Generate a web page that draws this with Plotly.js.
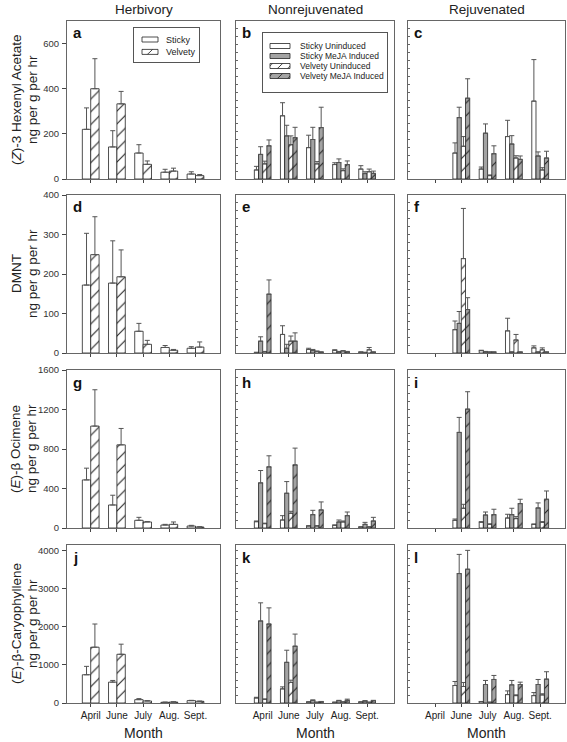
<!DOCTYPE html>
<html><head><meta charset="utf-8">
<script src="https://cdn.plot.ly/plotly-3.0.1.min.js"></script>
<style>html,body{margin:0;padding:0;background:#fff}#chart{width:567px;height:742px}</style>
</head><body><div id="chart"></div>
<script>
const months = ['April','June','July','Aug.','Sept.'];
const colTitles = ['Herbivory','Nonrejuvenated','Rejuvenated'];
const rowTitles = ['(<i>Z</i>)-3 Hexenyl Acetate','DMNT','(<i>E</i>)-β Ocimene','(<i>E</i>)-β-Caryophyllene'];
const unitTitle = 'ng per g per hr';
const panelLetters = ['a','b','c','d','e','f','g','h','i','j','k','l'];
const yMax = [700, 400, 1600, 4150];
const yTickVals = [[0,200,400,600],[0,100,200,300,400],[0,400,800,1200,1600],[0,1000,2000,3000,4000]];
const yMinorStep = [35, 20, 80, 200];

// Herbivory (Sticky, Velvety)
const hexSticky = [220, 142, 115, 30, 22];   const hexStickyErr = [95, 72, 37, 13, 10];
const hexVelvety = [400, 333, 65, 35, 15];   const hexVelvetyErr = [133, 55, 15, 13, 5];
const dmntSticky = [172, 177, 55, 14, 12];   const dmntStickyErr = [131, 107, 20, 5, 4];
const dmntVelvety = [249, 193, 22, 7, 15];   const dmntVelvetyErr = [96, 68, 10, 2, 13];
const ociSticky = [487, 233, 78, 30, 20];    const ociStickyErr = [119, 99, 30, 7, 7];
const ociVelvety = [1032, 842, 61, 37, 10];  const ociVelvetyErr = [368, 166, 5, 24, 3];
const carSticky = [742, 548, 88, 18, 62];    const carStickyErr = [220, 44, 27, 5, 8];
const carVelvety = [1466, 1280, 53, 26, 44]; const carVelvetyErr = [609, 265, 8, 5, 6];

// Nonrejuvenated: Sticky Uninduced, Sticky MeJA, Velvety Uninduced, Velvety MeJA
const bSU = [40, 280, 139, 64, 44];   const bSUErr = [16, 58, 55, 8, 15];
const bSM = [109, 191, 175, 73, 24];  const bSMErr = [34, 47, 54, 16, 8];
const bVU = [67, 152, 67, 37, 32];    const bVUErr = [12, 39, 10, 8, 12];
const bVM = [147, 183, 228, 64, 25];  const bVMErr = [26, 46, 90, 16, 10];
const eSU = [1, 47, 9, 7, 2];         const eSUErr = [1, 22, 3, 1, 1];
const eSM = [30, 12, 7, 3, 1];        const eSMErr = [11, 10, 2, 1, 1];
const eVU = [3, 30, 4, 5, 8];         const eVUErr = [1, 13, 1, 1, 6];
const eVM = [149, 30, 2, 3, 2];       const eVMErr = [36, 21, 1, 1, 1];
const hSU = [64, 81, 20, 27, 10];     const hSUErr = [7, 44, 3, 4, 2];
const hSM = [457, 352, 135, 61, 37];  const hSMErr = [125, 118, 44, 20, 20];
const hVU = [44, 149, 20, 61, 10];    const hVUErr = [5, 20, 3, 10, 2];
const hVM = [619, 639, 183, 125, 71]; const hVMErr = [112, 170, 81, 37, 37];
const kSU = [132, 371, 26, 18, 26];   const kSUErr = [18, 53, 5, 3, 5];
const kSM = [2155, 1068, 71, 62, 53]; const kSMErr = [476, 318, 8, 8, 8];
const kVU = [97, 539, 18, 26, 18];    const kVUErr = [8, 61, 3, 3, 3];
const kVM = [2075, 1492, 35, 71, 62]; const kVMErr = [424, 318, 6, 30, 8];

// Rejuvenated (no April data)
const cSU = [null, 115, 44, 188, 345]; const cSUErr = [null, 45, 9, 72, 184];
const cSM = [null, 272, 203, 155, 102]; const cSMErr = [null, 46, 41, 37, 18];
const cVU = [null, 145, 15, 93, 40];   const cVUErr = [null, 43, 3, 10, 10];
const cVM = [null, 358, 112, 87, 93];  const cVMErr = [null, 86, 35, 15, 30];
const fSU = [null, 59, 6, 56, 13];     const fSUErr = [null, 22, 1, 32, 5];
const fSM = [null, 75, 3, 2, 2];       const fSMErr = [null, 30, 1, 1, 1];
const fVU = [null, 239, 2, 33, 8];     const fVUErr = [null, 127, 1, 14, 5];
const fVM = [null, 110, 2, 2, 2];      const fVMErr = [null, 30, 1, 1, 1];
const iSU = [null, 78, 58, 101, 37];   const iSUErr = [null, 13, 6, 38, 3];
const iSM = [null, 968, 132, 135, 203]; const iSMErr = [null, 152, 30, 65, 51];
const iVU = [null, 200, 37, 95, 58];   const iVUErr = [null, 40, 5, 20, 6];
const iVM = [null, 1204, 135, 247, 291]; const iVMErr = [null, 176, 55, 44, 84];
const lSU = [null, 459, 35, 221, 194]; const lSUErr = [null, 106, 5, 97, 80];
const lSM = [null, 3400, 486, 477, 486]; const lSMErr = [null, 503, 106, 115, 132];
const lVU = [null, 433, 18, 194, 212]; const lVUErr = [null, 106, 3, 20, 30];
const lVM = [null, 3514, 618, 486, 627]; const lVMErr = [null, 495, 106, 61, 194];

const W = 567, H = 742;
const colPx = [[67,220],[236,394],[408,565]];
const rowPx = [[21,179],[195,353],[370,528],[545,703]];
const xRanges = [[-0.905, 4.935],[-1.023, 5.03],[-1.027, 4.943]];
const FONT = 'Liberation Sans, Arial, sans-serif';
const GRAY = '#a3a3a3';

const styles = {
  S:  {color:'white', hatch:false},
  V:  {color:'white', hatch:true},
  SU: {color:'white', hatch:false},
  SM: {color:GRAY, hatch:false},
  VU: {color:'white', hatch:true},
  VM: {color:GRAY, hatch:true}
};

function axId(p, letter){ return letter + (p === 0 ? '' : (p+1)); }

function bar(p, y, err, name, key, legend, showlegend){
  const st = styles[key];
  const marker = {color: st.color, line:{color:'#222', width:0.8}};
  if (st.hatch) marker.pattern = {shape:'/', fgcolor:'#222', bgcolor:st.color, size:9, solidity:0.12};
  return {
    type:'bar', x: months, y: y, name: name,
    xaxis: axId(p,'x'), yaxis: axId(p,'y'),
    marker: marker, legend: legend, showlegend: showlegend,
    error_y: {type:'data', symmetric:false, array: err, arrayminus: err.map(()=>0),
              color:'#555', thickness:1, width:2.5},
    hoverinfo:'none'
  };
}

const herb = [[hexSticky,hexStickyErr,hexVelvety,hexVelvetyErr],
              [dmntSticky,dmntStickyErr,dmntVelvety,dmntVelvetyErr],
              [ociSticky,ociStickyErr,ociVelvety,ociVelvetyErr],
              [carSticky,carStickyErr,carVelvety,carVelvetyErr]];
const nonrej = [[bSU,bSUErr,bSM,bSMErr,bVU,bVUErr,bVM,bVMErr],
                [eSU,eSUErr,eSM,eSMErr,eVU,eVUErr,eVM,eVMErr],
                [hSU,hSUErr,hSM,hSMErr,hVU,hVUErr,hVM,hVMErr],
                [kSU,kSUErr,kSM,kSMErr,kVU,kVUErr,kVM,kVMErr]];
const rej = [[cSU,cSUErr,cSM,cSMErr,cVU,cVUErr,cVM,cVMErr],
             [fSU,fSUErr,fSM,fSMErr,fVU,fVUErr,fVM,fVMErr],
             [iSU,iSUErr,iSM,iSMErr,iVU,iVUErr,iVM,iVMErr],
             [lSU,lSUErr,lSM,lSMErr,lVU,lVUErr,lVM,lVMErr]];

// legend boxes (pixels): left, top, width, height, first item offset, item step, swatch width
const legendBoxes = {
  legend:  {x:133, y:27, w:66,  h:35, first:12.5, step:12.4, sw:16, textX:36, font:9},
  legend2: {x:262, y:32, w:125, h:60, first:14,   step:10,   sw:20, textX:35, font:8.5}
};

const traces = [];
const layout = {
  width: W, height: H, margin:{l:0,r:0,t:0,b:0},
  paper_bgcolor:'white', plot_bgcolor:'white',
  font:{family:FONT, color:'#222'},
  barmode:'group', bargap:0.36, bargroupgap:0,
  showlegend:true,
  annotations: []
};
for (const k of ['legend','legend2']){
  const b = legendBoxes[k];
  layout[k] = {x:b.x/W, y:1-b.y/H, xanchor:'left', yanchor:'top', bgcolor:'white',
    bordercolor:'#555', borderwidth:1, font:{size:b.font, family:FONT, color:'#222'},
    tracegroupgap:0, itemwidth:30};
}

for (let r = 0; r < 4; r++){
  for (let c = 0; c < 3; c++){
    const p = r*3 + c;
    if (c === 0){
      const d = herb[r];
      traces.push(bar(p, d[0], d[1], 'Sticky', 'S', 'legend', r===0));
      traces.push(bar(p, d[2], d[3], 'Velvety', 'V', 'legend', r===0));
    } else {
      const d = (c === 1 ? nonrej : rej)[r];
      const show = (r===0 && c===1);
      traces.push(bar(p, d[0], d[1], 'Sticky Uninduced', 'SU', 'legend2', show));
      traces.push(bar(p, d[2], d[3], 'Sticky MeJA Induced', 'SM', 'legend2', show));
      traces.push(bar(p, d[4], d[5], 'Velvety Uninduced', 'VU', 'legend2', show));
      traces.push(bar(p, d[6], d[7], 'Velvety MeJA Induced', 'VM', 'legend2', show));
    }
    const xk = 'xaxis' + (p===0?'':(p+1));
    const yk = 'yaxis' + (p===0?'':(p+1));
    layout[xk] = {
      domain:[colPx[c][0]/W, colPx[c][1]/W], anchor: axId(p,'y'),
      type:'category', range: xRanges[c], fixedrange:true,
      showline:true, mirror:true, linecolor:'#666', linewidth:1,
      ticks:'outside', ticklen:3, tickcolor:'#444',
      showgrid:false, zeroline:false,
      showticklabels: r===3, tickfont:{size:10, family:FONT, color:'#222'}
    };
    const ya = {
      domain:[1-rowPx[r][1]/H, 1-rowPx[r][0]/H], anchor: axId(p,'x'),
      range:[0, yMax[r]], fixedrange:true,
      showline:true, mirror:true, linecolor:'#666', linewidth:1,
      showgrid:false, zeroline:false
    };
    if (c === 0){
      ya.tickmode = 'array'; ya.tickvals = yTickVals[r];
      ya.ticks = 'outside'; ya.ticklen = 4; ya.tickcolor = '#444';
      ya.ticklabelstandoff = 1;
      ya.tickfont = {size:9.5, family:FONT, color:'#333'};
    } else {
      ya.tickmode = 'linear'; ya.tick0 = 0; ya.dtick = yMinorStep[r];
      ya.ticks = 'inside'; ya.ticklen = 2; ya.tickcolor = '#666';
      ya.showticklabels = false;
    }
    layout[yk] = ya;
    layout.annotations.push({
      text:'<b>'+panelLetters[p]+'</b>', xref:'paper', yref:'paper',
      x:(colPx[c][0]+4)/W, y:1-(rowPx[r][0]+12)/H, xanchor:'left', yanchor:'middle',
      showarrow:false, font:{size:15, family:FONT, color:'#111'}
    });
  }
}

for (let c = 0; c < 3; c++){
  const cx = (colPx[c][0]+colPx[c][1])/2;
  layout.annotations.push({text: colTitles[c], xref:'paper', yref:'paper', x:cx/W, y:1-9/H,
    xanchor:'center', yanchor:'middle', showarrow:false, font:{size:13.5, family:FONT, color:'#222'}});
  layout.annotations.push({text:'Month', xref:'paper', yref:'paper', x:cx/W, y:1-733/H,
    xanchor:'center', yanchor:'middle', showarrow:false, font:{size:14, family:FONT, color:'#222'}});
}
for (let r = 0; r < 4; r++){
  const cy = (rowPx[r][0]+rowPx[r][1])/2;
  layout.annotations.push({text: rowTitles[r], xref:'paper', yref:'paper', x:16/W, y:1-cy/H,
    xanchor:'center', yanchor:'middle', textangle:-90, showarrow:false,
    font:{size:13.5, family:FONT, color:'#222'}});
  layout.annotations.push({text: unitTitle, xref:'paper', yref:'paper', x:32/W, y:1-cy/H,
    xanchor:'center', yanchor:'middle', textangle:-90, showarrow:false,
    font:{size:13.5, family:FONT, color:'#222'}});
}

function compactLegends(gd){
  for (const k of ['legend','legend2']){
    const b = legendBoxes[k];
    const lg = gd.querySelector('g.' + k);
    if (!lg) continue;
    lg.setAttribute('transform', 'translate(' + b.x + ',' + b.y + ')');
    const bg = lg.querySelector('rect.bg');
    if (bg){ bg.setAttribute('x', 0.5); bg.setAttribute('y', 0.5);
      bg.setAttribute('width', b.w); bg.setAttribute('height', b.h); }
    const items = lg.querySelectorAll('g.traces');
    items.forEach((it, i) => {
      it.setAttribute('transform', 'translate(' + (b.x > 200 ? -2 : -3) + ',' + (b.first + i*b.step) + ')');
      const t = it.querySelector('text.legendtext');
      if (t) t.setAttribute('x', b.textX);
      it.querySelectorAll('.legendpoints path').forEach(pth => {
        const hw = b.sw/2;
        pth.setAttribute('d', 'M'+hw+',2.5H-'+hw+'V-2.5H'+hw+'Z');
      });
    });
  }
}

Plotly.newPlot('chart', traces, layout, {staticPlot:true, displayModeBar:false})
  .then(gd => { try { compactLegends(gd); } catch(e) { console.error(e); } });
</script>
</body></html>
